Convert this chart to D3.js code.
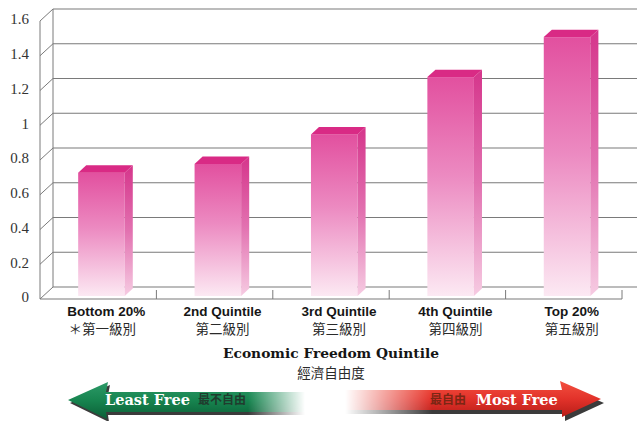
<!DOCTYPE html>
<html>
<head>
<meta charset="utf-8">
<script src="https://cdn.jsdelivr.net/npm/d3@7/dist/d3.min.js"></script>
<style>
  html, body { margin: 0; padding: 0; background: #fff; }
  svg { display: block; }
</style>
</head>
<body>
<svg id="chart" width="639" height="421"></svg>
<script>
// Quintile data
const categories = ["Bottom 20%", "2nd Quintile", "3rd Quintile", "4th Quintile", "Top 20%"];
const categoriesZh = ["＊第一級別", "第二級別", "第三級別", "第四級別", "第五級別"];
const values = [0.71, 0.76, 0.93, 1.26, 1.49];
const tickValues = [0, 0.2, 0.4, 0.6, 0.8, 1, 1.2, 1.4, 1.6];

const svg = d3.select("#chart");
const defs = svg.append("defs");

// 3D box geometry: front plane of the plot, plus a depth offset to the back wall
const DX = 13, DY = 12;          // full depth offset (right, up)
const d0 = 0.25, d1 = 0.87;      // bar front / back depth fractions
const plotLeft = 40, plotRight = 622, floorY = 299, topY = 21;

const x = d3.scaleBand().domain(categories).range([plotLeft, plotRight]).padding(0);
const y = d3.scaleLinear().domain([0, 1.6]).range([floorY, topY]);
const barW = x.bandwidth() * 0.4;

const gridColor = "#7a7a7a";

// Back wall gridlines
svg.append("g").selectAll("line").data(tickValues).join("line")
  .attr("x1", plotLeft + DX).attr("x2", plotRight + DX + 2)
  .attr("y1", d => y(d) - DY).attr("y2", d => y(d) - DY)
  .attr("stroke", gridColor).attr("stroke-width", 1.1);

// Side wall diagonals
svg.append("g").selectAll("line").data(tickValues).join("line")
  .attr("x1", plotLeft).attr("x2", plotLeft + DX)
  .attr("y1", d => y(d)).attr("y2", d => y(d) - DY)
  .attr("stroke", gridColor).attr("stroke-width", 1);

// Wall edges
svg.append("line").attr("x1", plotLeft).attr("x2", plotLeft)
  .attr("y1", y(1.6)).attr("y2", floorY).attr("stroke", gridColor);
svg.append("line").attr("x1", plotLeft + DX).attr("x2", plotLeft + DX)
  .attr("y1", y(1.6) - DY).attr("y2", floorY - DY).attr("stroke", gridColor);

// Floor front edge and category ticks
svg.append("line").attr("x1", plotLeft).attr("x2", plotRight)
  .attr("y1", floorY).attr("y2", floorY).attr("stroke", gridColor).attr("stroke-width", 1.1);
svg.append("g").selectAll("line").data(categories.slice(1).concat([null])).join("line")
  .attr("x1", d => d ? x(d) : plotRight).attr("x2", d => d ? x(d) : plotRight)
  .attr("y1", floorY - 9).attr("y2", floorY)
  .attr("stroke", gridColor);

// Gradients for bar faces
function vGrad(id, stops) {
  const g = defs.append("linearGradient").attr("id", id)
    .attr("x1", 0).attr("y1", 0).attr("x2", 0).attr("y2", 1);
  stops.forEach(([o, c]) => g.append("stop").attr("offset", o).attr("stop-color", c));
}
vGrad("frontGrad", [[0, "#e2509f"], [0.45, "#ec8ac1"], [1, "#fce9f3"]]);
vGrad("sideGrad", [[0, "#d5358b"], [0.5, "#e271b0"], [1, "#f6cbe2"]]);

// Bars
const bars = svg.append("g").selectAll("g").data(values.map((v, i) => ({ v, c: categories[i] })))
  .join("g");
const dd = d1 - d0;
bars.each(function (d) {
  const g = d3.select(this);
  const x0 = x(d.c) + (x.bandwidth() - barW) / 2 + d0 * DX;
  const x1 = x0 + barW;
  const yT = y(d.v) - d0 * DY;
  const yB = y(0) - d0 * DY;
  const ox = dd * DX, oy = dd * DY;
  g.append("rect").attr("x", x0).attr("y", yT).attr("width", barW).attr("height", yB - yT)
    .attr("fill", "url(#frontGrad)");
  g.append("path")
    .attr("d", `M${x1},${yT}L${x1 + ox},${yT - oy}L${x1 + ox},${yB - oy}L${x1},${yB}Z`)
    .attr("fill", "url(#sideGrad)");
  g.append("path")
    .attr("d", `M${x0},${yT}L${x0 + ox},${yT - oy}L${x1 + ox},${yT - oy}L${x1},${yT}Z`)
    .attr("fill", "#d92a85");
});

// Value axis labels
const yAxis = svg.append("g").attr("transform", "translate(29,-2)")
  .call(d3.axisLeft(y).tickValues(tickValues).tickSize(0).tickPadding(0)
    .tickFormat(d3.format("~g")));
yAxis.select(".domain").remove();
yAxis.selectAll("text")
  .attr("font-family", "'Liberation Serif', 'Times New Roman', serif")
  .attr("font-size", 15).attr("fill", "#333");

// Category labels
const labelX = c => x(c) + x.bandwidth() / 2 + 8;
svg.append("g").selectAll("text").data(categories).join("text")
  .attr("x", labelX).attr("y", 316)
  .attr("text-anchor", "middle")
  .attr("font-family", "'Liberation Sans', Arial, sans-serif")
  .attr("font-weight", "bold").attr("font-size", 13.5).attr("fill", "#161616")
  .text(d => d);
svg.append("g").selectAll("text").data(categoriesZh).join("text")
  .attr("x", (d, i) => labelX(categories[i]) - (i === 0 ? 4 : 0)).attr("y", 334)
  .attr("text-anchor", "middle")
  .attr("font-family", "'Noto Sans CJK TC', 'Noto Sans CJK SC', sans-serif")
  .attr("font-size", 13.5).attr("fill", "#2a2a2a")
  .text(d => d);

// Axis title
svg.append("text").attr("x", 331).attr("y", 358).attr("text-anchor", "middle")
  .attr("font-family", "'DejaVu Serif', serif").attr("font-weight", "bold")
  .attr("font-size", 13.8).attr("fill", "#151515")
  .text("Economic Freedom Quintile");
svg.append("text").attr("x", 331).attr("y", 378).attr("text-anchor", "middle")
  .attr("font-family", "'Noto Sans CJK TC', sans-serif")
  .attr("font-size", 13.5).attr("fill", "#2a2a2a")
  .text("經濟自由度");

// Direction arrows
function hMask(id, stops) {
  const lg = defs.append("linearGradient").attr("id", id + "G")
    .attr("gradientUnits", "userSpaceOnUse").attr("x1", 0).attr("x2", 639).attr("y1", 0).attr("y2", 0);
  stops.forEach(([o, a]) => lg.append("stop").attr("offset", o / 639).attr("stop-color", "#fff").attr("stop-opacity", a));
  defs.append("mask").attr("id", id).attr("maskUnits", "userSpaceOnUse")
    .attr("x", 0).attr("y", 0).attr("width", 639).attr("height", 421)
    .append("rect").attr("width", 639).attr("height", 421).attr("fill", `url(#${id}G)`);
}
hMask("fadeLeft", [[0, 1], [248, 1], [305, 0]]);
hMask("fadeRight", [[345, 0], [432, 1], [639, 1]]);
vGrad("greenGrad", [[0, "#2c9a68"], [0.5, "#17844f"], [1, "#0b5f37"]]);
vGrad("redGrad", [[0, "#f3503f"], [0.5, "#e2322a"], [1, "#b71d18"]]);

const leftArrow = "M68,400L108,382L106,392L320,392L320,412L106,412L107,419Z";
const rightArrow = "M340,390L562,390L560,381L601,399L562,417L562,410L340,410Z";

const lg = svg.append("g").attr("mask", "url(#fadeLeft)");
lg.append("path").attr("d", leftArrow).attr("transform", "translate(2,3)").attr("fill", "#3b3b3b");
lg.append("path").attr("d", leftArrow).attr("fill", "url(#greenGrad)");

const rg = svg.append("g").attr("mask", "url(#fadeRight)");
rg.append("path").attr("d", rightArrow).attr("transform", "translate(3,4)").attr("fill", "#3b3b3b");
rg.append("path").attr("d", rightArrow).attr("fill", "url(#redGrad)");

svg.append("text").attr("x", 105).attr("y", 405)
  .attr("font-family", "'DejaVu Serif', serif").attr("font-weight", "bold")
  .attr("font-size", 14.5).attr("fill", "#ffffff").text("Least Free");
svg.append("text").attr("x", 198).attr("y", 404)
  .attr("font-family", "'Noto Sans CJK TC', sans-serif").attr("font-weight", "bold")
  .attr("font-size", 12).attr("fill", "#203c2e").text("最不自由");
svg.append("text").attr("x", 430).attr("y", 404)
  .attr("font-family", "'Noto Sans CJK TC', sans-serif").attr("font-weight", "bold")
  .attr("font-size", 12).attr("fill", "#7b2614").text("最自由");
svg.append("text").attr("x", 476).attr("y", 405)
  .attr("font-family", "'DejaVu Serif', serif").attr("font-weight", "bold")
  .attr("font-size", 14.5).attr("fill", "#ffffff").text("Most Free");
</script>
</body>
</html>
